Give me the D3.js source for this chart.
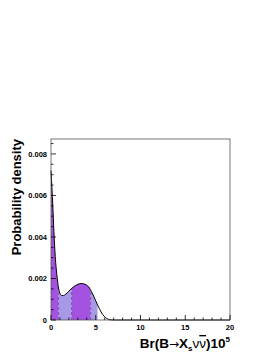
<!DOCTYPE html>
<html lang="en">
<head>
  <meta charset="UTF-8">
  <title>Br(B->Xs nu nubar) probability density</title>
  <script src="https://d3js.org/d3.v7.min.js"></script>
  <style>
    body { margin: 0; background: #fff; }
    text { font-family: "Liberation Sans", Arial, sans-serif; font-weight: bold; fill: #000; }
  </style>
</head>
<body>
<svg width="276" height="357"></svg>
<script>
  // density curve
  const brValues = [0, 0.1, 0.2, 0.3, 0.4, 0.5, 0.6, 0.7, 0.8, 0.9, 1.0, 1.2, 1.4, 1.6, 1.8, 2.0, 2.5, 3.0, 3.4, 3.8, 4.2, 4.6, 5.0, 5.4, 5.8, 6.2, 6.6, 7.0, 20];
  const density = [0.0072, 0.0064, 0.0055, 0.0045, 0.0036, 0.0029, 0.0024, 0.0020, 0.00165, 0.00142, 0.00128, 0.00118, 0.00118, 0.00123, 0.0013, 0.00139, 0.00159, 0.00172, 0.00176, 0.00172, 0.0016, 0.0013, 0.00092, 0.00055, 0.00025, 0.00008, 0.00001, 0, 0];

  // shaded bands (alternating colours)
  const bandEdges = [0, 0.85, 2.3, 4.43, 5.2];
  const bandColors = ["#a452e0", "#a898e8", "#a452e0", "#a898e8"];

  const xTicks = [0, 5, 10, 15, 20];
  const yTicks = [0, 0.002, 0.004, 0.006, 0.008];

  const svg = d3.select("svg");
  const x = d3.scaleLinear().domain([0, 20]).range([51, 230]);
  const y = d3.scaleLinear().domain([0, 0.00872]).range([320, 139]);

  const pts = brValues.map((v, i) => ({ x: v, y: density[i] }));
  const curve = d3.curveMonotoneX;

  // linear lookup of the density between read points
  function valueAt(v) {
    for (let i = 0; i < brValues.length - 1; i++) {
      if (v >= brValues[i] && v <= brValues[i + 1]) {
        const t = (v - brValues[i]) / (brValues[i + 1] - brValues[i]);
        return density[i] + t * (density[i + 1] - density[i]);
      }
    }
    return 0;
  }

  const area = d3.area().x(d => x(d.x)).y0(y(0)).y1(d => y(d.y)).curve(curve);

  bandColors.forEach((c, i) => {
    const a = bandEdges[i], b = bandEdges[i + 1];
    const seg = [{ x: a, y: valueAt(a) }]
      .concat(pts.filter(p => p.x > a && p.x < b))
      .concat([{ x: b, y: valueAt(b) }]);
    svg.append("path").attr("d", area(seg)).attr("fill", c);
  });

  // dashed dividers between bands
  bandEdges.slice(1, -1).forEach(e => {
    svg.append("line")
      .attr("x1", x(e)).attr("x2", x(e))
      .attr("y1", y(0)).attr("y2", y(valueAt(e)))
      .attr("stroke", "#6a4a90").attr("stroke-width", 0.8)
      .attr("stroke-dasharray", "3,2");
  });

  svg.append("path")
    .attr("d", d3.line().x(d => x(d.x)).y(d => y(d.y)).curve(curve)(pts))
    .attr("fill", "none").attr("stroke", "#000").attr("stroke-width", 1);

  // frame
  svg.append("rect")
    .attr("x", 51).attr("y", 139).attr("width", 179).attr("height", 181)
    .attr("fill", "none").attr("stroke", "#555").attr("stroke-width", 0.8);

  // y axis ticks pointing inward
  const gy = svg.append("g");
  d3.range(0, 0.0087, 0.0005).forEach((v, i) => {
    const major = i % 4 === 0;
    gy.append("line")
      .attr("x1", 51).attr("x2", 51 + (major ? 5 : 2.5))
      .attr("y1", y(v)).attr("y2", y(v))
      .attr("stroke", "#000").attr("stroke-width", 0.8);
  });
  yTicks.forEach(v => {
    gy.append("text")
      .attr("x", 47).attr("y", y(v) + 2.7)
      .attr("text-anchor", "end").attr("font-size", 7.5)
      .text(v === 0 ? "0" : v.toFixed(3));
  });

  // x axis ticks pointing inward
  const gx = svg.append("g");
  d3.range(0, 21, 1).forEach(v => {
    const major = v % 5 === 0;
    gx.append("line")
      .attr("x1", x(v)).attr("x2", x(v))
      .attr("y1", 320).attr("y2", 320 - (major ? 5 : 2.5))
      .attr("stroke", "#000").attr("stroke-width", 0.8);
  });
  xTicks.forEach(v => {
    gx.append("text")
      .attr("x", x(v)).attr("y", 329.5)
      .attr("text-anchor", "middle").attr("font-size", 7.5)
      .text(v);
  });

  // axis titles
  svg.append("text")
    .attr("transform", "translate(21,139) rotate(-90)")
    .attr("text-anchor", "end").attr("font-size", 13)
    .text("Probability density");

  const xt = svg.append("text")
    .attr("x", 230).attr("y", 348)
    .attr("text-anchor", "end").attr("font-size", 13.5);
  xt.append("tspan").text("Br(B");
  xt.append("tspan").attr("font-family", "DejaVu Sans").attr("font-weight", "normal").attr("font-size", 12).text("\u2192");
  xt.append("tspan").text("X");
  xt.append("tspan").attr("font-size", 8).attr("dy", 3).text("s");
  xt.append("tspan").attr("dy", -3).attr("font-weight", "normal").text("\u03bd");
  xt.append("tspan").attr("font-weight", "normal").style("text-decoration", "overline").text("\u03bd");
  xt.append("tspan").text(")10");
  xt.append("tspan").attr("font-size", 8).attr("dy", -6).text("5");
</script>
</body>
</html>
